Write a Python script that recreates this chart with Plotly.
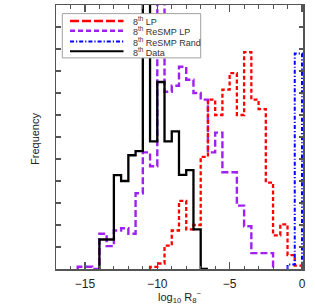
import plotly.graph_objects as go

# ---------------- data (bin width 0.5, heights in y-tick units) ----------------
bin_width = 0.5

data_start = -14.0
data_counts = [1.34, 1.34, 4.27, 4.0, 5.17, 5.36, 14.0, 5.8, 8.5, 5.8, 6.26, 4.28, 4.49, 1.8, 0.0]

resmp_lp_start = -15.5
resmp_lp_counts = [0.1, 0.1, 0.0, 1.6, 1.04, 1.75, 1.85, 1.6, 3.44, 5.3, 4.67, 14.0, 8.06, 8.33,
                   9.19, 8.6, 8.0, 7.7, 5.3, 6.2, 4.4, 4.4, 2.88, 1.94, 0.72, 0.72, 0.72]

lp_start = -10.5
lp_counts = [0.1, 0.25, 1.06, 1.75, 3.1, 1.8, 2.0, 5.1, 7.7, 7.0, 8.15, 8.9, 7.0, 9.86,
             7.7, 7.27, 3.93, 1.53, 2.03, 0.63, 0.15]

rand_start = -1.0
rand_counts = [0.2, 9.8]

x_ticks = [-15, -10, -5, 0]
labels = ["8<sup>th</sup> LP", "8<sup>th</sup> ReSMP LP", "8<sup>th</sup> ReSMP Rand", "8<sup>th</sup> Data"]

FONT = "Liberation Sans, Arial, sans-serif"


def step_xy(start, counts):
    edges = [start + i * bin_width for i in range(len(counts) + 1)]
    xs = [edges[0]] + edges[:-1] + [edges[-1]]
    ys = [0.0] + list(counts) + [0.0]
    return xs, ys


fig = go.Figure()

styles = [
    (lp_start, lp_counts, "#ff0000", "4px,2.5px", 2.3),
    (resmp_lp_start, resmp_lp_counts, "#a020f0", "7px,3px", 2.4),
    (rand_start, rand_counts, "#0000ff", "4px,2px,1.2px,2px", 2.0),
    (data_start, data_counts, "#000000", "solid", 2.3),
]
order = [1, 0, 2, 3]
for i in order:
    st, cn, col, dash, w = styles[i]
    xs, ys = step_xy(st, cn)
    fig.add_trace(go.Scatter(x=xs, y=ys, mode="lines", line=dict(shape="hv", color=col, dash=dash, width=w),
                             showlegend=False, hoverinfo="skip"))

# ---------------- manual legend ----------------
L, R, B, T = 56, 303, 269, 3
def px(xp):
    return (xp - L) / (R - L)
def py(yp):
    return (B - yp) / (B - T)

shapes = [dict(type="rect", xref="paper", yref="paper", x0=px(62.3), x1=px(200.7), y0=py(56.3), y1=py(11.7),
               fillcolor="white", line=dict(color="#a0a0a0", width=1), layer="above")]
leg_dash = ["9px,3px", "5px,3px", "4px,2px,1.2px,2px", "solid"]
leg_col = ["#ff0000", "#a020f0", "#0000ff", "#000000"]
leg_w = [2.5, 2.5, 2.0, 2.0]
rows = [19, 29, 39.7, 49.7]
annotations = []
for k in range(4):
    shapes.append(dict(type="line", xref="paper", yref="paper", x0=px(70), x1=px(123.5), y0=py(rows[k]), y1=py(rows[k]),
                       line=dict(color=leg_col[k], dash=leg_dash[k], width=leg_w[k]), layer="above"))
    annotations.append(dict(xref="paper", yref="paper", x=px(131), y=py(rows[k] + 0.5), xanchor="left", yanchor="middle",
                            text=labels[k], showarrow=False, font=dict(family=FONT, size=9, color="#333333")))

# axis titles
annotations.append(dict(xref="paper", yref="paper", x=0.5, y=py(297), xanchor="center", yanchor="middle",
                        text="log<sub>10</sub> R<sub>8</sub><sup>~</sup>", showarrow=False,
                        font=dict(family=FONT, size=11, color="#222222")))
annotations.append(dict(xref="paper", yref="paper", x=px(35), y=py(138), xanchor="center", yanchor="middle",
                        text="Frequency", textangle=-90, showarrow=False,
                        font=dict(family=FONT, size=11, color="#222222")))

fig.update_layout(
    width=315, height=306,
    margin=dict(l=L, r=315 - R, t=T, b=306 - B),
    paper_bgcolor="white", plot_bgcolor="white",
    shapes=shapes, annotations=annotations,
    font=dict(family=FONT, size=12, color="#222222"),
)
fig.update_xaxes(range=[-17, 0.07], tickmode="array", tickvals=x_ticks, ticks="inside", ticklen=7, tickwidth=1.2,
                 tickcolor="#555555", showline=True, linecolor="#555555", linewidth=1.5, mirror="ticks",
                 showgrid=False, zeroline=False, tickfont=dict(family=FONT, size=12, color="#222222"),
                 minor=dict(dtick=1, tick0=0, ticks="inside", ticklen=3.5, tickcolor="#555555", tickwidth=1, showgrid=False),
                 ticklabelstandoff=3)
fig.update_yaxes(range=[0, 12], dtick=1, tick0=0, ticks="inside", ticklen=4.5, tickwidth=1.2, tickcolor="#555555",
                 showline=True, linecolor="#555555", linewidth=1.5, mirror="ticks", showgrid=False, zeroline=False,
                 showticklabels=False)

fig.write_html("out.html", config={"displayModeBar": False, "staticPlot": True},
               post_script="document.body.style.margin='0';document.body.style.overflow='hidden';")
